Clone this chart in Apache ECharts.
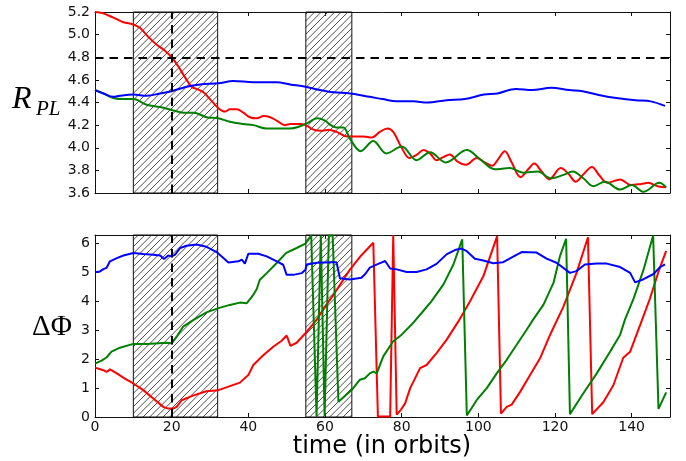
<!DOCTYPE html>
<html><head><meta charset="utf-8">
<script src="https://cdn.jsdelivr.net/npm/echarts@6/dist/echarts.min.js"></script>
<style>html,body{margin:0;padding:0;background:#fff}#c{width:686px;height:461px}</style>
</head><body><div id="c"></div>
<script>
// ---- Top panel: R_PL vs time ----
const topRedT = [0,2,4.8,7.4,10,11.7,13.9,16.1,17.8,20,21.7,23.9,25.2,26.5,28.3,30,32.2,33.9,35.2,37,38.7,40.4,42.2,44,45.7,47.4,49.5,51,53.5,55,57,59,61,63,65.7,68,70,72.2,74.3,76.3,77.8,80,82,84,85.7,87.4,89.1,91,92.6,94.5,96.8,99.6,101.7,103.6,105.2,106.9,108.7,111,113,114.6,116.5,118.5,121.5,123.5,125.4,127.8,129.6,131.7,133.7,137,139.8,142.5,144.3,146.8,149];
const topRedV = [5.20,5.19,5.15,5.11,5.09,5.06,4.98,4.91,4.87,4.80,4.72,4.60,4.54,4.52,4.49,4.43,4.35,4.32,4.34,4.34,4.31,4.27,4.26,4.28,4.27,4.24,4.20,4.21,4.21,4.20,4.16,4.15,4.16,4.14,4.10,4.10,4.10,4.09,4.14,4.17,4.14,4.00,3.91,3.94,3.98,3.95,3.89,3.92,3.94,3.88,3.85,3.91,3.87,3.84,3.90,3.97,3.87,3.74,3.81,3.86,3.79,3.72,3.82,3.77,3.70,3.78,3.83,3.75,3.69,3.72,3.67,3.68,3.69,3.66,3.65];
const topGreenT = [0,2.2,4.8,7.4,10,13.5,17,20.4,23,25.7,29.1,32.2,35.2,38.7,41.3,44.8,47.4,50.9,53.5,55.5,58,60,61.5,63,64.8,66.5,69.3,72.6,76,80,83.9,87.4,91.5,97,100.4,104.3,108.2,111.7,115.5,119,122.2,124.6,127.4,130,133,137,140,143.1,147.2,149];
const topGreenV = [4.51,4.48,4.44,4.43,4.43,4.38,4.36,4.33,4.31,4.31,4.27,4.26,4.23,4.21,4.20,4.17,4.17,4.17,4.19,4.22,4.26,4.24,4.20,4.18,4.18,4.08,3.97,4.06,3.95,4.01,3.89,3.96,3.87,3.98,3.90,3.81,3.82,3.78,3.79,3.73,3.76,3.79,3.73,3.66,3.70,3.63,3.67,3.61,3.69,3.65];
const topBlueT = [0,2.2,4.8,6.5,10,13.5,17,20,23.9,27.4,32.2,36.1,41.3,47.4,50.9,54.9,58.7,62.2,66.5,71.7,75,78.7,83,86.7,91.7,96.5,101.5,105,109.8,114,119,123.7,127.2,132.4,136,141,145,148.7];
const topBlueV = [4.51,4.48,4.45,4.46,4.47,4.46,4.48,4.50,4.54,4.56,4.57,4.59,4.58,4.58,4.56,4.54,4.51,4.49,4.48,4.45,4.43,4.41,4.41,4.40,4.42,4.43,4.47,4.48,4.52,4.51,4.53,4.51,4.50,4.46,4.44,4.42,4.41,4.37];

// ---- Bottom panel: Delta Phi vs time ----
const botRedT = [0,2.2,3,3.9,5.7,7.8,10,12.6,15.2,17.8,19.1,20.4,21.3,22.6,25.7,29.1,32.2,35.2,37.8,40,41.3,43.9,46.5,48.7,50,51,52.6,54.9,57.8,60,62.2,66.5,69.5,72.6,73.8,77.0,77.8,78.7,79.8,80.9,82.2,84.8,86.5,89.1,91.7,94.8,97.8,101.3,104.9,105.9,107.4,108.7,110.9,113.5,116.1,118.7,122.2,125.6,128.6,129.7,132.6,135.2,137.8,139.6,142.2,144.8,147,149];
const botRedV = [1.71,1.62,1.56,1.65,1.51,1.33,1.16,0.93,0.64,0.35,0.29,0.29,0.35,0.58,0.75,0.89,0.93,1.07,1.19,1.45,1.80,2.14,2.43,2.64,2.82,2.46,2.57,2.90,3.36,3.82,4.23,5.10,5.60,6.03,0.02,0.02,6.30,0.08,0.25,0.47,0.99,1.69,1.80,2.21,2.67,3.31,4.00,4.87,6.26,0.12,0.35,0.43,0.87,1.45,2.03,2.84,3.82,4.98,6.22,0.10,0.51,1.09,2.05,2.26,3.18,4.11,5.03,5.75];
const botGreenT = [0,1.7,3,4.3,6.5,10,13.5,18.7,20,21.3,23,25.7,29.1,32.2,35.2,37.8,39.6,41.3,42.2,43,44.8,47.4,49.9,52.6,54.9,56.4,57.8,58.9,59.9,61.0,62.0,63.5,67,69.1,70.4,71.7,72.6,73.5,75.2,77.8,80,82.6,85.2,87.8,90.9,93.5,95.8,97,99.6,102.2,104.8,107.4,110,112.6,114.3,117,119.6,121.3,122.9,123.9,127.4,130.9,134.4,137,138.3,140.4,143.1,145.6,147,149];
const botGreenV = [1.85,1.95,2.06,2.26,2.40,2.53,2.53,2.57,2.55,2.78,3.13,3.36,3.62,3.77,3.88,3.96,3.94,4.23,4.43,4.75,4.98,5.33,5.68,5.85,6.00,6.28,0.03,6.28,0.03,6.28,6.28,0.53,0.94,1.29,1.34,1.51,1.57,1.51,2.10,2.62,2.85,3.20,3.60,4.01,4.59,5.28,6.15,0.05,0.59,1.00,1.51,1.98,2.50,3.02,3.37,3.89,4.64,5.57,6.17,0.10,0.82,1.51,2.27,2.85,3.39,4.06,5.10,6.28,0.28,0.85];
const botBlueT = [0,1.3,2.2,3,3.9,5.7,7.4,10,12.6,15.2,17,18,19.1,20,20.9,22.2,23.9,26.5,29.1,31.7,33.5,34.8,37.4,38.3,39.1,40,42.6,44.8,47.4,49.1,50,51.7,53.9,54.9,55.2,57.8,61.7,63,63.9,66.5,69.5,70.5,71.7,73.9,75.7,77,78.7,81.3,83.9,86.5,89.1,91.7,93.9,95.6,97,99.1,101.3,103.9,106.5,109.1,111.3,115.2,117.8,120.4,123.9,125.6,127.8,130.9,133.5,137,139.6,140.9,143.1,145.7,147.4,148.7];
const botBlueV = [5.01,5.04,5.12,5.16,5.39,5.50,5.59,5.68,5.64,5.62,5.59,5.47,5.59,5.56,5.62,5.85,5.93,5.97,5.89,5.71,5.50,5.35,5.39,5.45,5.31,5.65,5.65,5.56,5.39,5.27,4.92,4.92,4.98,5.10,5.28,5.34,5.36,5.36,4.80,4.76,4.82,4.95,5.17,5.30,5.40,5.14,5.11,5.02,5.02,5.11,5.30,5.63,5.78,5.83,5.74,5.48,5.42,5.32,5.36,5.55,5.71,5.69,5.48,5.34,4.99,5.05,5.28,5.31,5.31,5.19,4.99,4.66,4.77,4.95,5.19,5.28];

// shaded intervals, reference lines
const hatchSpans = [[10,32],[55,67]];
const refTime = 20;
const refR = 4.8;

function pairs(t,v){return t.map((x,i)=>[x,v[i]]);}

function hatchPattern(){
  const c=document.createElement('canvas'); c.width=20; c.height=20;
  const g=c.getContext('2d'); g.strokeStyle='#3a3a3a'; g.lineWidth=0.9;
  for(let k=-4;k<=10;k++){
    const cc=k*20/3;
    g.beginPath(); g.moveTo(cc+5,-5); g.lineTo(cc-25,25); g.stroke();
  }
  return c;
}
const pat = {image: hatchPattern(), repeat:'repeat'};

const FONT='DejaVu Sans';
function xAx(grid, pos, labels){
  return {gridIndex:grid, type:'value', position:pos, min:0, max:150, interval:20,
    axisLine:{show:true,onZero:false,lineStyle:{color:'#111',width:1}},
    axisTick:{show:true,inside:true,length:4,lineStyle:{color:'#111'}},
    axisLabel:{show:labels,margin:3,color:'#111',fontFamily:FONT,fontSize:14,showMaxLabel:false},
    splitLine:{show:false}};
}
function yAx(grid,pos,min,max,interval,labels,fmt){
  return {gridIndex:grid, type:'value', position:pos, min:min, max:max, interval:interval,
    axisLine:{show:true,onZero:false,lineStyle:{color:'#111',width:1}},
    axisTick:{show:true,inside:true,length:4,lineStyle:{color:'#111'}},
    axisLabel:{show:labels,margin:5,color:'#111',fontFamily:FONT,fontSize:14,showMaxLabel:grid===0,formatter:fmt},
    splitLine:{show:false}};
}
function dataLine(xi,yi,data,color,smooth){
  return {type:'line',xAxisIndex:xi,yAxisIndex:yi,data:data,showSymbol:false,symbol:'none',
    smooth:smooth,z:3,lineStyle:{color:color,width:2},itemStyle:{color:color},animation:false};
}
const areas = hatchSpans.map(s=>[{xAxis:s[0]},{xAxis:s[1]}]);
function hatchSeries(xi,yi){
  return {type:'line',xAxisIndex:xi,yAxisIndex:yi,data:[],z:1,silent:true,
    markArea:{silent:true,itemStyle:{color:pat,borderColor:'#111',borderWidth:1},data:areas}};
}
const dash = {color:'#000',width:2,type:[8.5,6]};

const option = {
  animation:false,
  grid:[{left:95,right:16,top:12,height:181},{left:95,right:16,top:235,height:182}],
  xAxis:[xAx(0,'bottom',false),xAx(0,'top',false),xAx(1,'bottom',true),xAx(1,'top',false)],
  yAxis:[yAx(0,'left',3.6,5.2,0.2,true,v=>v.toFixed(1)),yAx(0,'right',3.6,5.2,0.2,false),
         yAx(1,'left',0,6.3,1,true,v=>String(Math.round(v))),yAx(1,'right',0,6.3,1,false)],
  series:[
    hatchSeries(0,0),
    hatchSeries(2,2),
    dataLine(0,0,pairs(topRedT,topRedV),'#ff0000',0.35),
    dataLine(0,0,pairs(topGreenT,topGreenV),'#008000',0.35),
    dataLine(0,0,pairs(topBlueT,topBlueV),'#0000ff',0.35),
    dataLine(2,2,pairs(botRedT,botRedV),'#ff0000',false),
    dataLine(2,2,pairs(botGreenT,botGreenV),'#008000',false),
    dataLine(2,2,pairs(botBlueT,botBlueV),'#0000ff',false),
    {type:'line',xAxisIndex:0,yAxisIndex:0,data:[],z:4,silent:true,
      markLine:{silent:true,symbol:['none','none'],label:{show:false},lineStyle:dash,
        data:[{xAxis:refTime},{yAxis:refR}]}},
    {type:'line',xAxisIndex:2,yAxisIndex:2,data:[],z:4,silent:true,
      markLine:{silent:true,symbol:['none','none'],label:{show:false},lineStyle:dash,
        data:[{xAxis:refTime}]}}
  ],
  graphic:[
    {type:'text',x:12,y:100,style:{text:'R',font:'italic 32px "Liberation Serif"',fill:'#000',verticalAlign:'middle'}},
    {type:'text',x:36,y:109,style:{text:'PL',font:'italic 21px "Liberation Serif"',fill:'#000',verticalAlign:'middle'}},
    {type:'text',x:52,y:327,style:{text:'ΔΦ',font:'29px "Liberation Serif"',fill:'#000',align:'center',verticalAlign:'middle'}},
    {type:'text',x:382,y:447,style:{text:'time (in orbits)',font:'24px "DejaVu Sans"',fill:'#000',align:'center',verticalAlign:'middle'}}
  ]
};
const chart = echarts.init(document.getElementById('c'),null,{renderer:'canvas'});
chart.setOption(option);
</script></body></html>
